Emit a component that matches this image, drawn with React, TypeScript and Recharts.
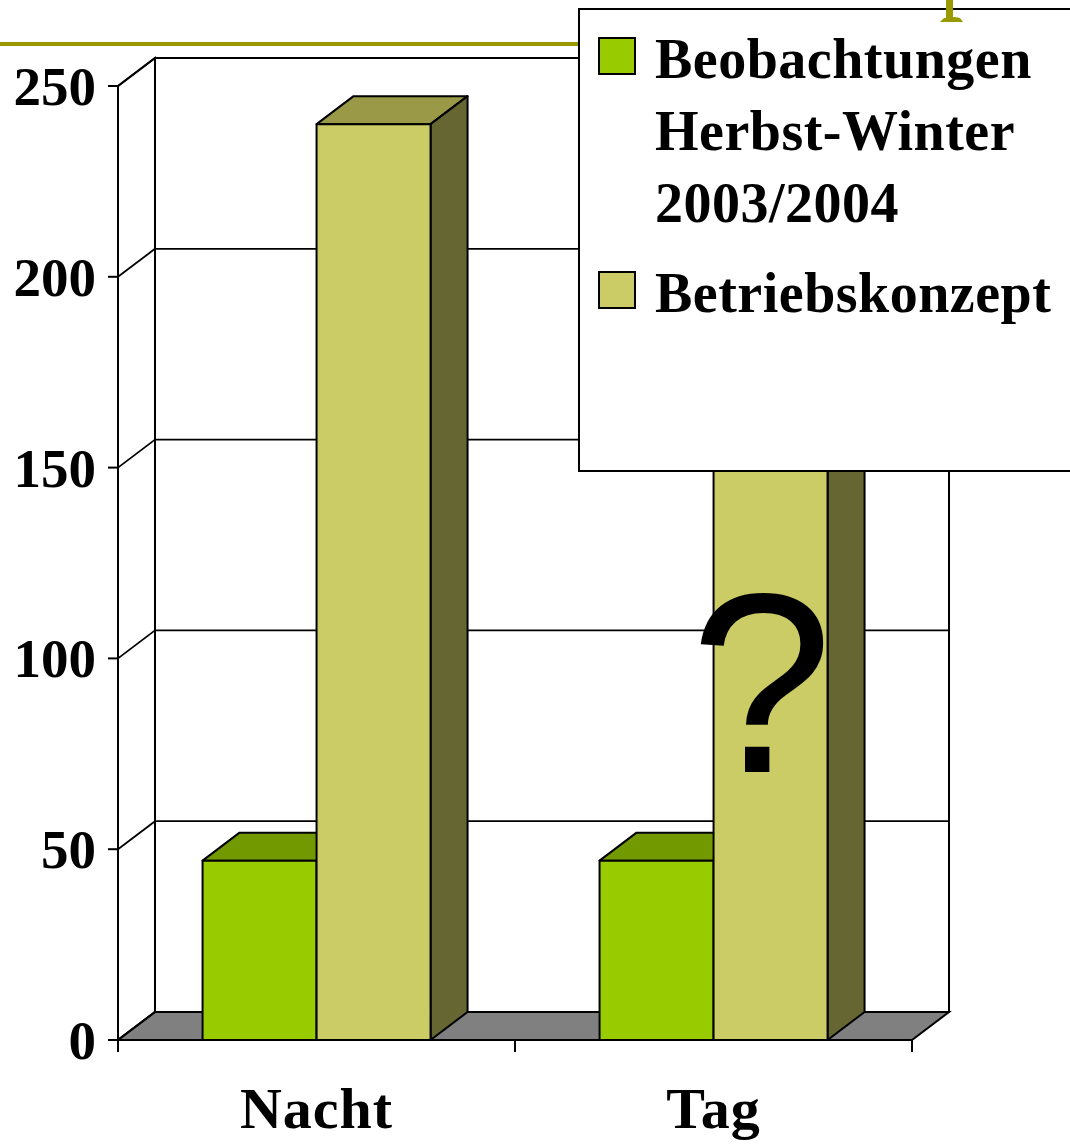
import { Bar, BarChart, LabelList, Legend, ReferenceArea, ReferenceLine, XAxis, YAxis } from "recharts"

const categories = ["Nacht", "Tag"]
const beobachtungen = [47, 47]
const betriebskonzept = [240, 240]
const notes = ["", "?"]
const yTicks = [0, 50, 100, 150, 200, 250]
const seriesNames = ["Beobachtungen\nHerbst-Winter\n2003/2004", "Betriebskonzept"]

const data = categories.map((name, i) => ({
  name,
  beob: beobachtungen[i],
  konzept: betriebskonzept[i],
  note: notes[i],
}))

// depth of the fake 3d box
const DX = 37
const DY = 28
const serif = "'Liberation Serif', 'Times New Roman', serif"

const faces: Record<string, { front: string; top: string; side: string }> = {
  beob: { front: "#99CC00", top: "#739900", side: "#4d6600" },
  konzept: { front: "#CCCC66", top: "#999948", side: "#666633" },
}

const makeBar = (key: string) => (props: any) => {
  const { x, y, width, height } = props
  const c = faces[key]
  const b = y + height
  return (
    <g stroke="#000" strokeWidth={2} strokeLinejoin="round">
      <polygon points={`${x},${y} ${x + DX},${y - DY} ${x + width + DX},${y - DY} ${x + width},${y}`} fill={c.top} />
      <polygon points={`${x + width},${y} ${x + width + DX},${y - DY} ${x + width + DX},${b - DY} ${x + width},${b}`} fill={c.side} />
      <rect x={x} y={y} width={width} height={height} fill={c.front} />
    </g>
  )
}

const Walls = (props: any) => {
  const { x, y, width, height } = props
  const b = y + height
  return (
    <g stroke="#000" strokeWidth={2}>
      <rect x={x + DX} y={y - DY} width={width} height={height} fill="#fff" />
      <polygon points={`${x},${y} ${x + DX},${y - DY} ${x + DX},${b - DY} ${x},${b}`} fill="#fff" />
      <polygon points={`${x},${b} ${x + width},${b} ${x + width + DX},${b - DY} ${x + DX},${b - DY}`} fill="#808080" />
    </g>
  )
}

const GridLine = (props: any) => {
  const { x1, y1, x2, y2 } = props
  return (
    <g stroke="#000" strokeWidth={1.8}>
      <line x1={x1 + DX} y1={y1 - DY} x2={x2 + DX} y2={y2 - DY} />
      <line x1={x1} y1={y1} x2={x1 + DX} y2={y1 - DY} />
    </g>
  )
}

const YTick = (props: any) => {
  const { x, y, payload } = props
  return (
    <text x={x} y={y} dy={19} textAnchor="end" fontFamily={serif} fontWeight="bold" fontSize={55} fill="#000">
      {payload.value}
    </text>
  )
}

const XTick = (props: any) => {
  const { x, y, payload, index } = props
  const half = payload.offset ?? 198.5
  return (
    <g>
      <line x1={x - half} y1={y} x2={x - half} y2={y + 12} stroke="#000" strokeWidth={2} />
      {index === categories.length - 1 && (
        <line x1={x + half} y1={y} x2={x + half} y2={y + 12} stroke="#000" strokeWidth={2} />
      )}
      <text x={x} y={y} dy={88} textAnchor="middle" fontFamily={serif} fontWeight="bold" fontSize={58} letterSpacing={1} fill="#000">
        {payload.value}
      </text>
    </g>
  )
}

const QuestionMark = (props: any) => {
  const { x, y, width, height, value } = props
  if (!value) return null
  return (
    <text x={x + width / 2 - 9} y={y + height - 268} textAnchor="middle" fontFamily="'Liberation Sans', Arial, sans-serif" fontSize={256} fill="#000">
      {value}
    </text>
  )
}

const LegendBox = (props: any) => {
  const { payload } = props
  return (
    <div
      style={{
        boxSizing: "border-box",
        width: 492,
        height: 464,
        background: "#fff",
        border: "2px solid #000",
        borderRight: "none",
        paddingTop: 13,
        fontFamily: serif,
        fontWeight: "bold",
        fontSize: 56,
        lineHeight: "72px",
        color: "#000",
      }}
    >
      {(payload || []).map((entry: any, i: number) => (
        <div key={i} style={{ display: "flex", alignItems: "flex-start", marginTop: i === 0 ? 0 : 18 }}>
          <div
            style={{
              boxSizing: "border-box",
              width: 38,
              height: 38,
              marginTop: 14,
              marginLeft: 18,
              background: entry.color,
              border: "2px solid #000",
              flexShrink: 0,
            }}
          />
          <div style={{ marginLeft: 19, whiteSpace: "pre-line", letterSpacing: 0.5 }}>{entry.value}</div>
        </div>
      ))}
    </div>
  )
}

export default function App() {
  return (
    <div style={{ position: "absolute", left: 0, top: 0, width: 1070, height: 1144, background: "#fff" }}>
      <div style={{ position: "absolute", left: 0, top: 0 }}>
        <BarChart
          width={1070}
          height={1144}
          data={data}
          margin={{ top: 86, right: 158, bottom: 0, left: 0 }}
          barCategoryGap="21.3%"
          barGap={0}
        >
          <ReferenceArea y1={0} y2={250} shape={Walls} zIndex={-300} />
          {yTicks.map((t) => (
            <ReferenceLine key={t} y={t} shape={GridLine} zIndex={-200} />
          ))}
          <XAxis
            dataKey="name"
            axisLine={{ stroke: "#000", strokeWidth: 2 }}
            tickLine={false}
            tickSize={0}
            tickMargin={0}
            height={104}
            tick={XTick}
            interval={0}
          />
          <YAxis
            domain={[0, 250]}
            ticks={yTicks}
            interval={0}
            width={118}
            axisLine={{ stroke: "#000", strokeWidth: 2 }}
            tickLine={{ stroke: "#000", strokeWidth: 2 }}
            tickSize={10}
            tickMargin={12}
            tick={YTick}
          />
          <Legend
            layout="vertical"
            align="center"
            verticalAlign="middle"
            content={LegendBox}
            wrapperStyle={{ left: 578, top: 8, width: 492, height: 464 }}
          />
          <Bar dataKey="beob" name={seriesNames[0]} fill="#99CC00" shape={makeBar("beob")} isAnimationActive={false} />
          <Bar dataKey="konzept" name={seriesNames[1]} fill="#CCCC66" shape={makeBar("konzept")} isAnimationActive={false}>
            <LabelList dataKey="note" content={QuestionMark} />
          </Bar>
        </BarChart>
      </div>
      <svg width={1070} height={60} style={{ position: "absolute", left: 0, top: 0, pointerEvents: "none" }}>
        <rect x={0} y={42} width={578} height={4} fill="#999900" />
        <rect x={946} y={0} width={7} height={19} fill="#999900" />
        <polygon points="940,22 944,18 955,17 960,18 963,22" fill="#999900" />
      </svg>
    </div>
  )
}
